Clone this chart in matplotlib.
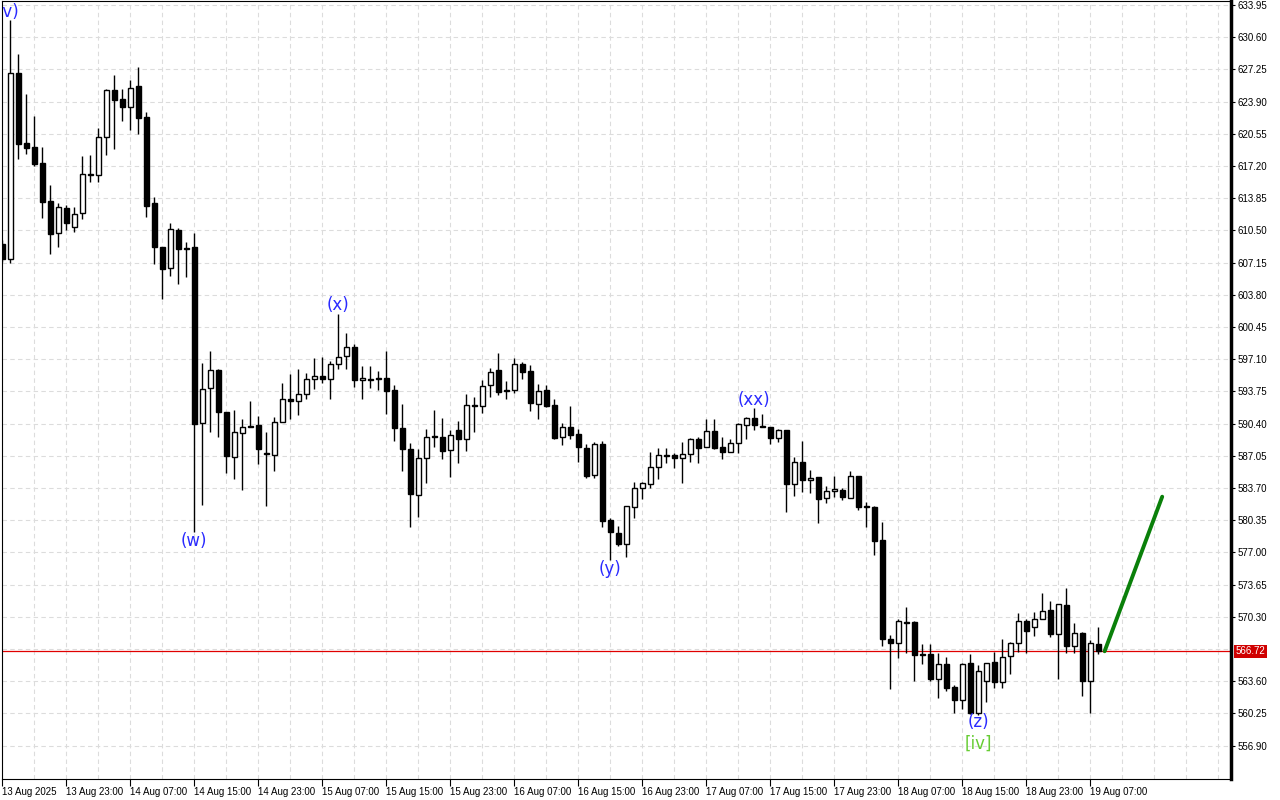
import matplotlib
matplotlib.use("Agg")
import matplotlib.pyplot as plt
import matplotlib.transforms as mtransforms
import numpy as np

# ---------------- data (hourly candles, 13 Aug 15:00 -> 19 Aug 08:00) ----------------
opens = [609.08, 607.49, 626.84, 619.56, 619.18, 617.48, 613.52, 610.20, 612.80, 610.89,
         612.28, 616.40, 616.23, 620.19, 625.11, 624.17, 623.31, 625.52, 622.27, 613.32,
         608.74, 606.56, 610.51, 608.70, 608.74, 590.43, 594.07, 595.98, 591.60, 586.96,
         589.45, 590.20, 590.25, 587.30, 587.10, 590.60, 592.93, 592.72, 593.45, 595.01,
         595.32, 595.01, 596.57, 597.40, 598.34, 594.90, 595.05, 595.10, 595.11, 593.86,
         589.91, 587.76, 582.94, 586.79, 589.15, 589.04, 587.62, 589.70, 588.76, 592.30,
         592.20, 594.38, 595.94, 593.90, 593.93, 596.60, 595.84, 592.41, 593.86, 592.30,
         588.97, 590.01, 589.29, 587.83, 585.02, 588.31, 580.37, 579.02, 577.91, 581.75,
         583.67, 584.08, 585.85, 587.05, 587.10, 586.79, 587.24, 588.76, 587.93, 589.66,
         587.93, 587.41, 588.35, 590.22, 590.95, 590.10, 590.00, 588.87, 589.70, 584.08,
         586.40, 584.50, 584.81, 582.63, 583.36, 583.49, 582.63, 584.95, 581.80, 581.72,
         578.29, 567.96, 567.60, 569.80, 569.76, 566.40, 566.43, 563.83, 565.35, 562.97,
         561.67, 565.55, 560.32, 563.62, 565.56, 563.48, 566.19, 567.54, 569.89, 569.20,
         570.04, 570.97, 568.48, 571.49, 567.23, 568.58, 563.59, 567.44]
highs = [609.50, 632.39, 628.85, 624.69, 622.37, 619.18, 615.22, 613.32, 613.14, 612.90,
         618.24, 618.34, 621.12, 625.25, 626.67, 625.21, 626.15, 627.53, 622.79, 613.97,
         608.74, 611.27, 610.72, 609.29, 610.23, 596.74, 597.95, 596.05, 591.60, 591.81,
         590.88, 592.75, 591.19, 589.52, 591.09, 594.62, 595.56, 596.08, 595.66, 597.22,
         597.33, 596.94, 601.80, 599.83, 598.68, 596.36, 596.39, 595.87, 597.95, 594.41,
         592.44, 588.38, 587.76, 589.81, 591.78, 590.95, 589.73, 590.67, 593.48, 593.17,
         594.90, 596.15, 597.71, 594.80, 597.19, 596.81, 596.49, 594.52, 594.41, 592.93,
         590.43, 592.20, 589.81, 588.24, 588.52, 588.56, 580.54, 579.74, 581.79, 584.35,
         584.29, 587.44, 587.86, 587.89, 587.31, 588.45, 588.93, 589.04, 590.85, 590.85,
         589.04, 588.76, 590.43, 591.12, 591.99, 591.37, 590.00, 589.84, 589.70, 586.95,
         588.56, 585.54, 584.81, 583.91, 584.92, 583.73, 585.47, 584.95, 582.24, 581.83,
         580.16, 568.40, 570.04, 571.35, 569.83, 567.47, 567.44, 566.57, 566.08, 563.17,
         565.52, 566.43, 565.25, 565.52, 566.61, 567.96, 567.71, 570.69, 570.04, 570.76,
         572.74, 571.97, 571.60, 573.26, 569.62, 568.76, 567.88, 569.20]
lows = [607.20, 607.14, 617.96, 618.48, 617.23, 611.82, 608.08, 608.81, 610.54, 610.37,
        611.72, 615.57, 615.57, 618.38, 618.94, 621.91, 620.94, 620.53, 611.92, 607.04,
        603.39, 605.79, 604.95, 605.68, 579.12, 581.96, 589.56, 589.04, 585.29, 584.67,
        583.49, 590.07, 586.20, 581.83, 585.47, 590.53, 590.91, 591.32, 592.93, 594.03,
        594.59, 592.99, 596.05, 596.11, 594.24, 592.99, 594.13, 593.89, 591.43, 588.62,
        585.50, 579.61, 580.71, 584.25, 588.00, 586.75, 584.81, 586.33, 587.58, 589.56,
        591.47, 593.20, 593.34, 592.99, 593.61, 595.07, 591.74, 590.91, 592.16, 588.80,
        588.20, 588.76, 586.43, 584.71, 584.74, 579.61, 576.21, 577.66, 576.55, 580.61,
        582.52, 583.73, 584.67, 586.27, 585.75, 584.19, 586.43, 586.33, 587.93, 587.79,
        586.68, 587.41, 587.38, 588.76, 589.70, 590.00, 588.24, 588.45, 581.23, 582.90,
        583.31, 583.15, 580.03, 582.11, 582.80, 582.48, 582.63, 581.41, 579.67, 576.73,
        567.29, 562.79, 566.04, 566.57, 563.65, 565.39, 563.65, 561.88, 562.61, 560.32,
        560.67, 560.18, 560.08, 561.47, 562.86, 562.92, 564.32, 566.67, 566.50, 568.27,
        570.04, 568.16, 563.80, 566.50, 566.57, 562.09, 560.26, 566.43]
closes = [607.49, 626.84, 619.52, 619.10, 617.44, 613.49, 610.16, 612.90, 611.24, 612.17,
          616.37, 616.30, 620.22, 625.11, 624.04, 623.31, 625.28, 622.23, 613.07, 608.80,
          606.48, 610.61, 608.60, 608.60, 590.39, 593.97, 595.94, 591.64, 587.03, 589.49,
          590.01, 590.10, 587.79, 587.20, 590.60, 592.93, 592.72, 593.45, 595.01, 595.32,
          595.01, 596.57, 597.36, 598.34, 594.90, 595.14, 594.95, 595.00, 593.82, 589.97,
          587.72, 583.11, 586.79, 589.04, 589.05, 587.52, 589.24, 588.76, 592.30, 592.20,
          594.28, 595.80, 593.72, 593.80, 596.57, 595.74, 592.51, 593.82, 592.26, 588.90,
          590.01, 589.24, 587.93, 584.98, 588.31, 580.30, 579.09, 577.87, 581.79, 583.67,
          584.19, 585.85, 587.10, 587.15, 586.79, 587.20, 588.76, 587.83, 589.66, 587.89,
          587.41, 588.35, 590.32, 590.95, 590.22, 590.05, 588.87, 589.70, 584.08, 586.40,
          584.50, 584.77, 582.59, 583.36, 583.56, 582.80, 584.95, 581.75, 581.70, 578.21,
          567.99, 567.60, 569.83, 569.70, 566.36, 566.30, 563.83, 565.35, 562.89, 561.67,
          565.35, 560.32, 564.63, 565.52, 563.48, 566.15, 567.54, 569.89, 568.85, 570.04,
          570.93, 568.48, 571.60, 567.23, 568.58, 563.59, 567.54, 566.72]

time_labels = ["13 Aug 2025", "13 Aug 23:00", "14 Aug 07:00", "14 Aug 15:00", "14 Aug 23:00",
               "15 Aug 07:00", "15 Aug 15:00", "15 Aug 23:00", "16 Aug 07:00", "16 Aug 15:00",
               "16 Aug 23:00", "17 Aug 07:00", "17 Aug 15:00", "17 Aug 23:00", "18 Aug 07:00",
               "18 Aug 15:00", "18 Aug 23:00", "19 Aug 07:00"]
price_ticks = [556.90, 560.25, 563.60, 570.30, 573.65, 577.00, 580.35, 583.70, 587.05,
               590.40, 593.75, 597.10, 600.45, 603.80, 607.15, 610.50, 613.85, 617.20,
               620.55, 623.90, 627.25, 630.60, 633.95]
grid_levels = [556.90, 560.25, 563.60, 566.95, 570.30, 573.65, 577.00, 580.35, 583.70,
               587.05, 590.40, 593.75, 597.10, 600.45, 603.80, 607.15, 610.50, 613.85,
               617.20, 620.55, 623.90, 627.25, 630.60, 633.95]
current_price = 566.72

forecast_x = [137.8, 145.0]
forecast_y = [566.72, 582.8]

wave_text = ["(v)", "(w)", "(x)", "(y)", "(xx)", "(z)", "[iv]"]
wave_bar = [0.75, 24, 42, 76, 94, 122, 122]
wave_price = [633.2, 578.2, 602.7, 575.3, 592.9, 559.4, 557.1]
wave_color = ["#2a2aff", "#2a2aff", "#2a2aff", "#2a2aff", "#2a2aff", "#2a2aff", "#66cc33"]

# ---------------- figure ----------------
W, H, DPI = 1280, 800, 100
fig = plt.figure(figsize=(W / DPI, H / DPI), dpi=DPI)
fig.patch.set_facecolor("white")
ax = fig.add_axes([2 / W, 21 / H, (1231 - 2) / W, (799 - 21) / H])
ax.set_facecolor("white")

n = len(opens)
x = np.arange(n)
o = np.array(opens); h = np.array(highs); l = np.array(lows); c = np.array(closes)

ax.set_xlim(-0.04, 153.6)
ax.set_ylim(553.43, 634.37)

# grid
for g in grid_levels:
    ax.axhline(g, color="#dcdcdc", lw=0.8, ls=(0, (4, 3)), zorder=0)
for gx in range(0, 154, 4):
    ax.axvline(gx, color="#dcdcdc", lw=0.8, ls=(0, (4, 3)), zorder=0)

# current price line
ax.axhline(current_price, color="#e00000", lw=0.9, zorder=1)

# wicks
ax.vlines(x, l, h, color="black", lw=1.0, zorder=2)

# bodies
bw = 0.6
up = c >= o
body_bottom = np.minimum(o, c)
body_h = np.maximum(np.abs(c - o), 0.1)
ax.bar(x[up], body_h[up], bottom=body_bottom[up], width=bw, color="white",
       edgecolor="black", linewidth=1.0, zorder=3)
ax.bar(x[~up], body_h[~up], bottom=body_bottom[~up], width=bw, color="black",
       edgecolor="black", linewidth=1.0, zorder=3)

# forecast line
ax.plot(forecast_x, forecast_y, color="#0a800a", lw=2.8, zorder=4, solid_capstyle="round")

# wave labels
for t, b, p, col in zip(wave_text, wave_bar, wave_price, wave_color):
    ax.text(b, p, t, color=col, fontsize=12, ha="center", va="center", zorder=5,
            clip_on=True)

# axes styling
ax.yaxis.tick_right()
ax.set_yticks(price_ticks)
ax.set_yticklabels([f"{v:.2f}" for v in price_ticks], fontsize=7, family="Liberation Sans")
ax.tick_params(axis="y", direction="out", length=3, width=0.8, pad=2, colors="black")

ax.set_xticks(np.arange(0, n, 8)[:len(time_labels)])
ax.set_xticklabels(time_labels, fontsize=7, family="Liberation Sans")
for lab in ax.get_xticklabels():
    lab.set_horizontalalignment("left")
ax.tick_params(axis="x", direction="out", length=5, width=0.8, pad=1)

for s in ["left", "top", "bottom"]:
    ax.spines[s].set_linewidth(0.8)
    ax.spines[s].set_color("black")
ax.spines["right"].set_linewidth(2.5)

# current price tag
trans = mtransforms.blended_transform_factory(ax.transAxes, ax.transData)
ax.text(1.0035, current_price, f"{current_price:.2f}", transform=trans, fontsize=7,
        family="Liberation Sans", color="white", va="center", ha="left",
        bbox=dict(boxstyle="square,pad=0.15", facecolor="#d00000", edgecolor="none"),
        clip_on=False, zorder=6)

fig.savefig("out.png", dpi=DPI, facecolor="white")
